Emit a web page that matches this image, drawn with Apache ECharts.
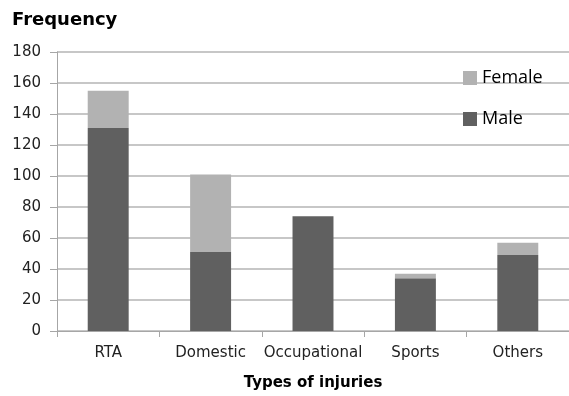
<!DOCTYPE html>
<html>
<head>
<meta charset="utf-8">
<script src="https://cdn.jsdelivr.net/npm/echarts@6/dist/echarts.min.js"></script>
<style>
  html, body { margin: 0; padding: 0; background: #fff; }
  #chart { width: 569px; height: 396px; }
</style>
</head>
<body>
<div id="chart"></div>
<script>
// Injury counts by type, split by sex
const categories = ['RTA', 'Domestic', 'Occupational', 'Sports', 'Others'];
const maleValues = [131, 51, 74, 34, 49];
const femaleValues = [24, 50, 0, 3, 8];
const yTicks = { min: 0, max: 180, interval: 20 };

const FONT = 'DejaVu Sans';
const chart = echarts.init(document.getElementById('chart'), null, { renderer: 'canvas' });

chart.setOption({
  animation: false,
  backgroundColor: '#ffffff',
  title: {
    text: 'Frequency',
    left: 7,
    top: 6,
    textStyle: { fontFamily: FONT, fontWeight: 'bold', fontSize: 18, color: '#000' }
  },
  legend: {
    orient: 'vertical',
    left: 458,
    top: 63,
    icon: 'rect',
    itemWidth: 14,
    itemHeight: 14,
    itemGap: 21,
    data: ['Female', 'Male'],
    textStyle: { fontFamily: 'Open Sans', fontSize: 18, color: '#000', lineHeight: 20 }
  },
  grid: { left: 57, top: 52, width: 515, height: 279, containLabel: false },
  xAxis: {
    type: 'category',
    data: categories,
    name: 'Types of injuries',
    nameLocation: 'middle',
    nameGap: 45,
    nameTextStyle: { fontFamily: FONT, fontWeight: 'bold', fontSize: 15, color: '#000' },
    axisLine: { lineStyle: { color: '#a6a6a6', width: 1 } },
    axisTick: { show: true, length: 6, lineStyle: { color: '#a6a6a6' } },
    axisLabel: { interval: 0, fontFamily: FONT, fontSize: 15, color: '#222', margin: 15 }
  },
  yAxis: {
    type: 'value',
    min: yTicks.min,
    max: yTicks.max,
    interval: yTicks.interval,
    axisLine: { show: true, lineStyle: { color: '#a6a6a6', width: 1 } },
    axisTick: { show: true, length: 7, lineStyle: { color: '#a6a6a6' } },
    axisLabel: { fontFamily: FONT, fontSize: 15, color: '#222', margin: 16 },
    splitLine: { lineStyle: { color: '#b4b4b4', width: 1.5 } }
  },
  series: [
    {
      name: 'Male',
      type: 'bar',
      stack: 'total',
      barWidth: '40%',
      data: maleValues,
      itemStyle: { color: '#606060' }
    },
    {
      name: 'Female',
      type: 'bar',
      stack: 'total',
      barWidth: '40%',
      data: femaleValues,
      itemStyle: { color: '#b2b2b2' }
    }
  ]
});
</script>
</body>
</html>
